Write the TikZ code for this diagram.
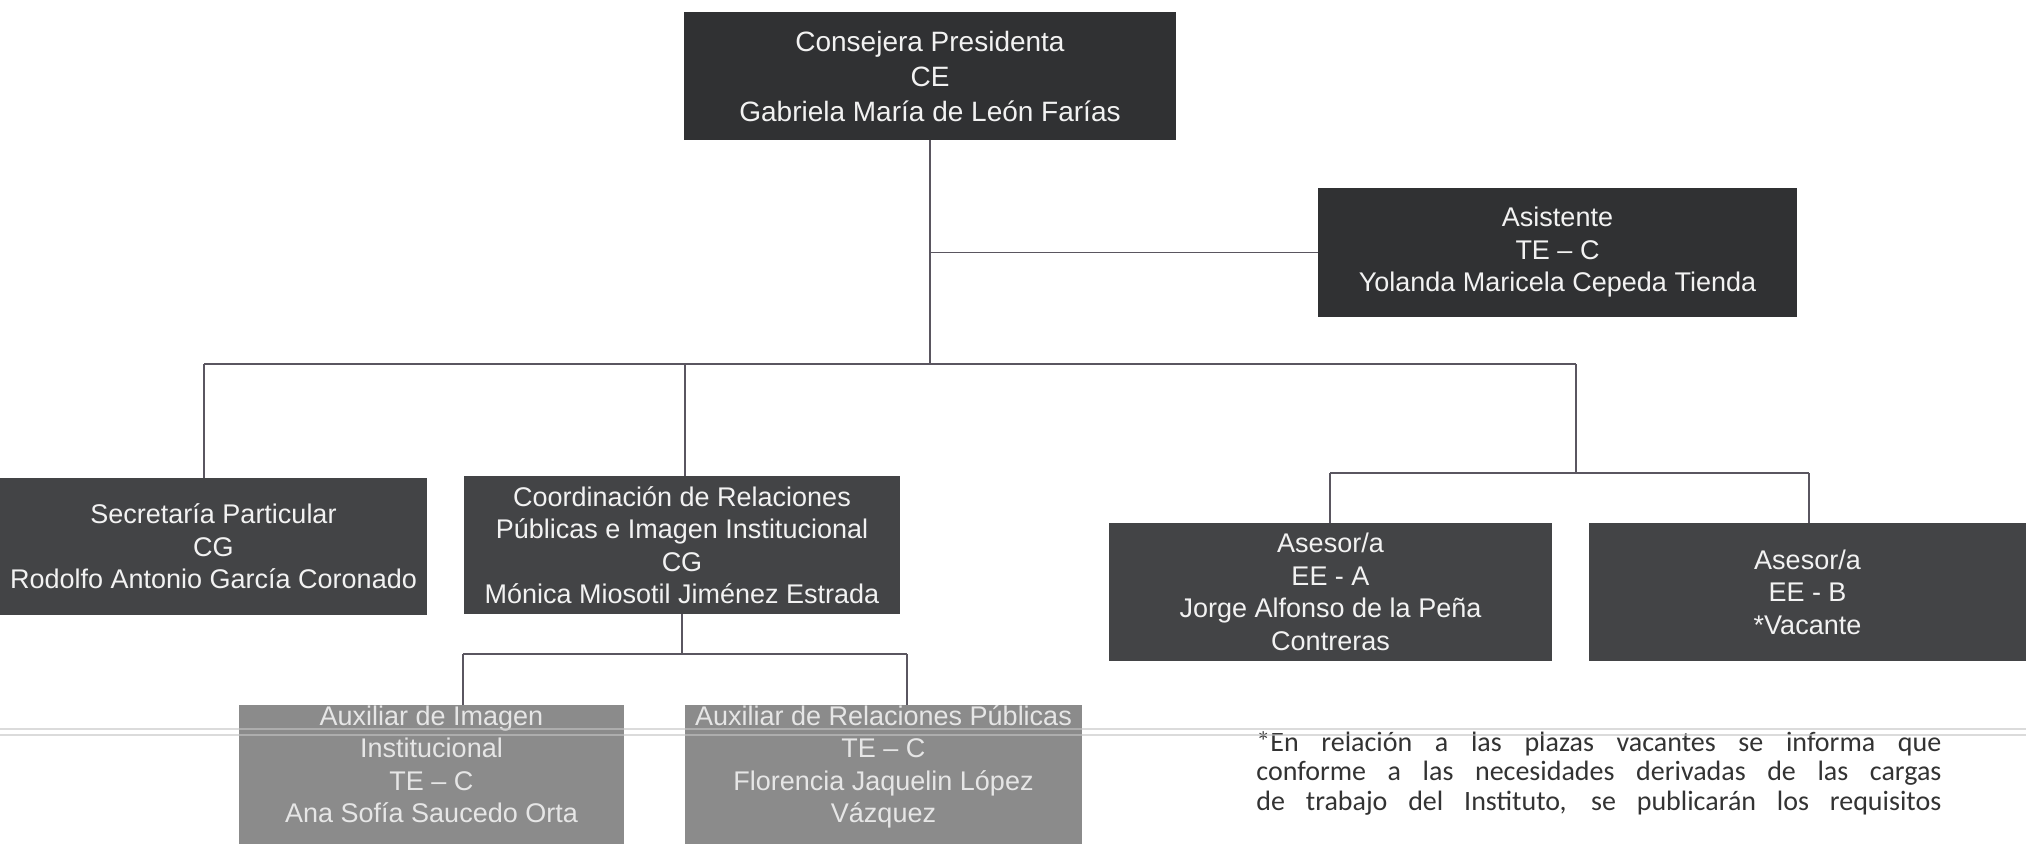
\documentclass[tikz,border=0pt]{standalone}
\usepackage{fontspec}
\setmainfont{Liberation Sans}
\newfontfamily\notefont{Carlito}
\usetikzlibrary{calc}
\definecolor{boxdark}{HTML}{303133}
\definecolor{boxmid}{HTML}{434446}
\definecolor{boxlight}{HTML}{8B8B8B}
\definecolor{txtlight}{HTML}{F2F2F2}
\definecolor{txtaux}{HTML}{E6E6E6}
\definecolor{linecol}{HTML}{5A5660}
\definecolor{notecol}{HTML}{333333}
\definecolor{scancol}{HTML}{C4C4C4}
\tikzset{
  orgbox/.style={rectangle, fill=boxmid, text=txtlight, inner sep=0pt, align=center,
    font=\fontsize{13.5pt}{16.25pt}\selectfont},
  topbox/.style={orgbox, fill=boxdark, font=\fontsize{14pt}{17.5pt}\selectfont},
  auxbox/.style={orgbox, fill=boxlight, text=txtaux, text depth=10.5pt},
  conn/.style={draw=linecol, line width=0.75pt},
  scanline/.style={draw=scancol, line width=1.2pt, opacity=0.6}
}
\begin{document}
\begin{tikzpicture}[x=0.5pt,y=-0.5pt]
\useasboundingbox[fill=white] (0,0) rectangle (2026,846);

% boxes
\node[topbox, minimum width=246pt, minimum height=64pt] (top) at (930,76)
  {Consejera Presidenta\\CE\\Gabriela María de León Farías};
\node[orgbox, fill=boxdark, minimum width=239.5pt, minimum height=64.5pt] (asis) at (1557.5,252.5)
  {Asistente\\TE – C\\Yolanda Maricela Cepeda Tienda};
\node[orgbox, minimum width=213.5pt, minimum height=68.5pt] (secr) at (213.5,546.5)
  {Secretaría Particular\\CG\\Rodolfo Antonio García Coronado};
\node[orgbox, minimum width=218pt, minimum height=69pt] (coord) at (682,545)
  {Coordinación de Relaciones\\Públicas e Imagen Institucional\\CG\\Mónica Miosotil Jiménez Estrada};
\node[orgbox, minimum width=221.5pt, minimum height=69pt] (asA) at (1330.5,592)
  {Asesor/a\\EE - A\\Jorge Alfonso de la Peña\\Contreras};
\node[orgbox, minimum width=218.5pt, minimum height=69pt] (asB) at (1807.5,592)
  {Asesor/a\\EE - B\\*Vacante};
\node[auxbox, minimum width=192.5pt, minimum height=69.5pt] (auxI) at (431.5,774.5)
  {Auxiliar de Imagen\\Institucional\\TE – C\\Ana Sofía Saucedo Orta};
\node[auxbox, minimum width=198.5pt, minimum height=69.5pt] (auxRP) at (883.5,774.5)
  {Auxiliar de Relaciones Públicas\\TE – C\\Florencia Jaquelin López\\Vázquez};

% connectors
\coordinate (bL) at (204,364);
\coordinate (bC) at (685,364);
\coordinate (bR) at (1576,364);
\draw[conn] (top.south) -- (top.south |- bL);
\draw[conn] (top.south |- asis.west) -- (asis.west);
\draw[conn] (bL) -- (bR);
\draw[conn] (bL) -- (bL |- secr.north);
\draw[conn] (bC) -- (bC |- coord.north);
\coordinate (sR) at (1576,473);
\coordinate (sA) at (1330,473);
\coordinate (sB) at (1809,473);
\draw[conn] (bR) -- (sR);
\draw[conn] (sA) -- (sB);
\draw[conn] (sA) -- (sA |- asA.north);
\draw[conn] (sB) -- (sB |- asB.north);
\coordinate (cL) at (463,654);
\coordinate (cR) at (907,654);
\draw[conn] (coord.south) -- (coord.south |- cL);
\draw[conn] (cL) -- (cR);
\draw[conn] (cL) -- (cL |- auxI.north);
\draw[conn] (cR) -- (cR |- auxRP.north);

% footnote
\node[anchor=north west, inner sep=0pt, align=left, text=notecol,
  font=\notefont\fontsize{14pt}{14.85pt}\selectfont] (note) at (1256,731)
  {\makebox[342.5pt][s]{*En relación a las plazas vacantes se informa que}\\
   \makebox[342.5pt][s]{conforme a las necesidades derivadas de las cargas}\\
   \makebox[342.5pt][s]{de trabajo del Instituto, se publicarán los requisitos}};

% scan artefact line
\draw[scanline] (0,729) -- (2026,729);
\draw[scanline] (0,735) -- (2026,735);
\end{tikzpicture}
\end{document}
